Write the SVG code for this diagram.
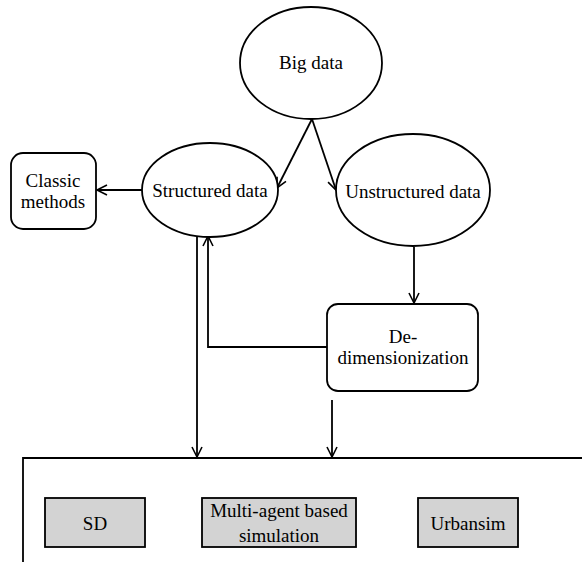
<svg xmlns="http://www.w3.org/2000/svg" width="582" height="562" viewBox="0 0 582 562" font-family="'Liberation Serif', 'Times New Roman', 'DejaVu Serif', serif">
<style>
.n{fill:#fff;stroke:#000;stroke-width:1.8}
.g{fill:#d3d3d3;stroke:#000;stroke-width:1.8}
text{font-family:'Liberation Serif','Times New Roman','DejaVu Serif',serif;font-size:19px;fill:#000;text-anchor:middle}
.c{fill:none;stroke:#000;stroke-width:1.8}
.a{marker-end:url(#ah)}
</style>
<defs>
<marker id="ah" markerWidth="14" markerHeight="14" viewBox="-12 -7 14 14" refX="0" refY="0" orient="auto" markerUnits="userSpaceOnUse">
<path d="M-10,-5 L0,0 L-10,5" fill="none" stroke="#000" stroke-width="1.6"/>
</marker>
</defs>
<g id="bottom-frame">
<path class="c" d="M582,458 L23,458 L23,562"/>
</g>
<g id="connectors">
<path class="c a" d="M312,119 L277,188"/>
<path class="c a" d="M312,119 L336,190"/>
<path class="c a" d="M142,190 L97,190"/>
<path class="c a" d="M414,247 L414,303"/>
<path class="c a" d="M327,347 L208,347 L208,236"/>
<path class="c a" d="M197,237 L197,457"/>
<path class="c a" d="M332,400 L332,457"/>
</g>
<g id="big-data">
<ellipse class="n" cx="311" cy="63" rx="71" ry="56"/>
<text x="311" y="69">Big data</text>
</g>
<g id="structured-data">
<ellipse class="n" cx="210" cy="190" rx="68" ry="47"/>
<text x="210" y="197">Structured data</text>
</g>
<g id="unstructured-data">
<ellipse class="n" cx="413" cy="190" rx="77" ry="56"/>
<text x="413" y="198">Unstructured data</text>
</g>
<g id="classic-methods">
<rect class="n" x="11" y="153" width="85" height="76" rx="12"/>
<text x="53" y="187">Classic</text>
<text x="53" y="208">methods</text>
</g>
<g id="de-dimensionization">
<rect class="n" x="327" y="304" width="151" height="87" rx="11"/>
<text x="403" y="343">De-</text>
<text x="403" y="364">dimensionization</text>
</g>
<g id="sd">
<rect class="g" x="45" y="498" width="100" height="49"/>
<text x="95" y="530">SD</text>
</g>
<g id="multi-agent">
<rect class="g" x="202" y="498" width="154" height="49"/>
<text x="279" y="517">Multi-agent based</text>
<text x="279" y="542">simulation</text>
</g>
<g id="urbansim">
<rect class="g" x="418" y="498" width="100" height="49"/>
<text x="468" y="530">Urbansim</text>
</g>
</svg>
